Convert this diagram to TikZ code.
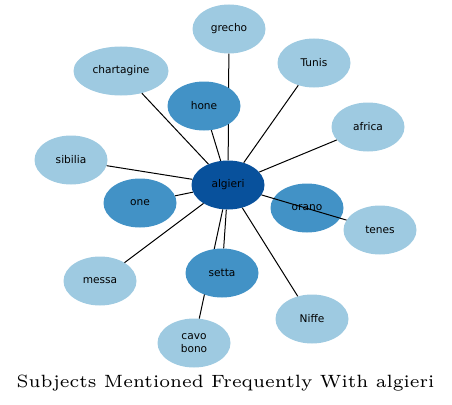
\documentclass[tikz,border=0pt]{standalone}
\usepackage{fontspec}
\newfontfamily\labelfont{DejaVu Sans}
\usepackage{tikz}
\usetikzlibrary{shapes.geometric}
\definecolor{bluelt}{HTML}{9ECAE1}
\definecolor{bluemd}{HTML}{4292C6}
\definecolor{bluedk}{HTML}{08519C}
\tikzset{
  subj/.style    = {ellipse, fill=bluelt, draw=none, inner sep=0pt,
                    minimum width=73pt, minimum height=49pt,
                    font=\labelfont\fontsize{10.6}{12.5}\selectfont, text=black},
  subjmd/.style  = {subj, fill=bluemd},
  hub/.style     = {subj, fill=bluedk},
  lnk/.style     = {draw=black, line width=1pt},
}
\begin{document}
\begin{tikzpicture}[x=1pt, y=-1pt]
  \useasboundingbox (0,0) rectangle (452,404);
  \node[hub] (algieri) at (228,185) {algieri};
  \node[subj] (grecho) at (229,29) {grecho};
  \node[subj, minimum width=95pt] (chartagine) at (121,71) {chartagine};
  \node[subj] (tunis) at (314,63) {Tunis};
  \node[subj] (africa) at (368,127) {africa};
  \node[subj] (sibilia) at (71,160) {sibilia};
  \node[subjmd] (one) at (140,203) {one};
  \node[subj] (tenes) at (380,230) {tenes};
  \node[subj] (messa) at (100,281) {messa};
  \node[subj] (niffe) at (312,319) {Niffe};
  \node[subj, align=center] (cavobono) at (194,343) {cavo\\bono};
  % these two run under hone and setta
  \draw[lnk] (algieri) -- (grecho);
  \draw[lnk] (algieri) -- (cavobono);
  \node[subjmd] (hone) at (204,106) {hone};
  \node[subjmd] (setta) at (222,273) {setta};
  \node[subjmd] (orano) at (307,208) {orano};
  \draw[lnk] (algieri) -- (chartagine);
  \draw[lnk] (algieri) -- (hone);
  \draw[lnk] (algieri) -- (tunis);
  \draw[lnk] (algieri) -- (africa);
  \draw[lnk] (algieri) -- (sibilia);
  \draw[lnk] (algieri) -- (one);
  \draw[lnk] (algieri) -- (tenes);
  \draw[lnk] (algieri) -- (messa);
  \draw[lnk] (algieri) -- (setta);
  \draw[lnk] (algieri) -- (niffe);
  \node[font=\fontsize{6}{7}\selectfont, scale=2.96, anchor=base] (title) at (225.5,387)
    {Subjects Mentioned Frequently With algieri};
\end{tikzpicture}
\end{document}
